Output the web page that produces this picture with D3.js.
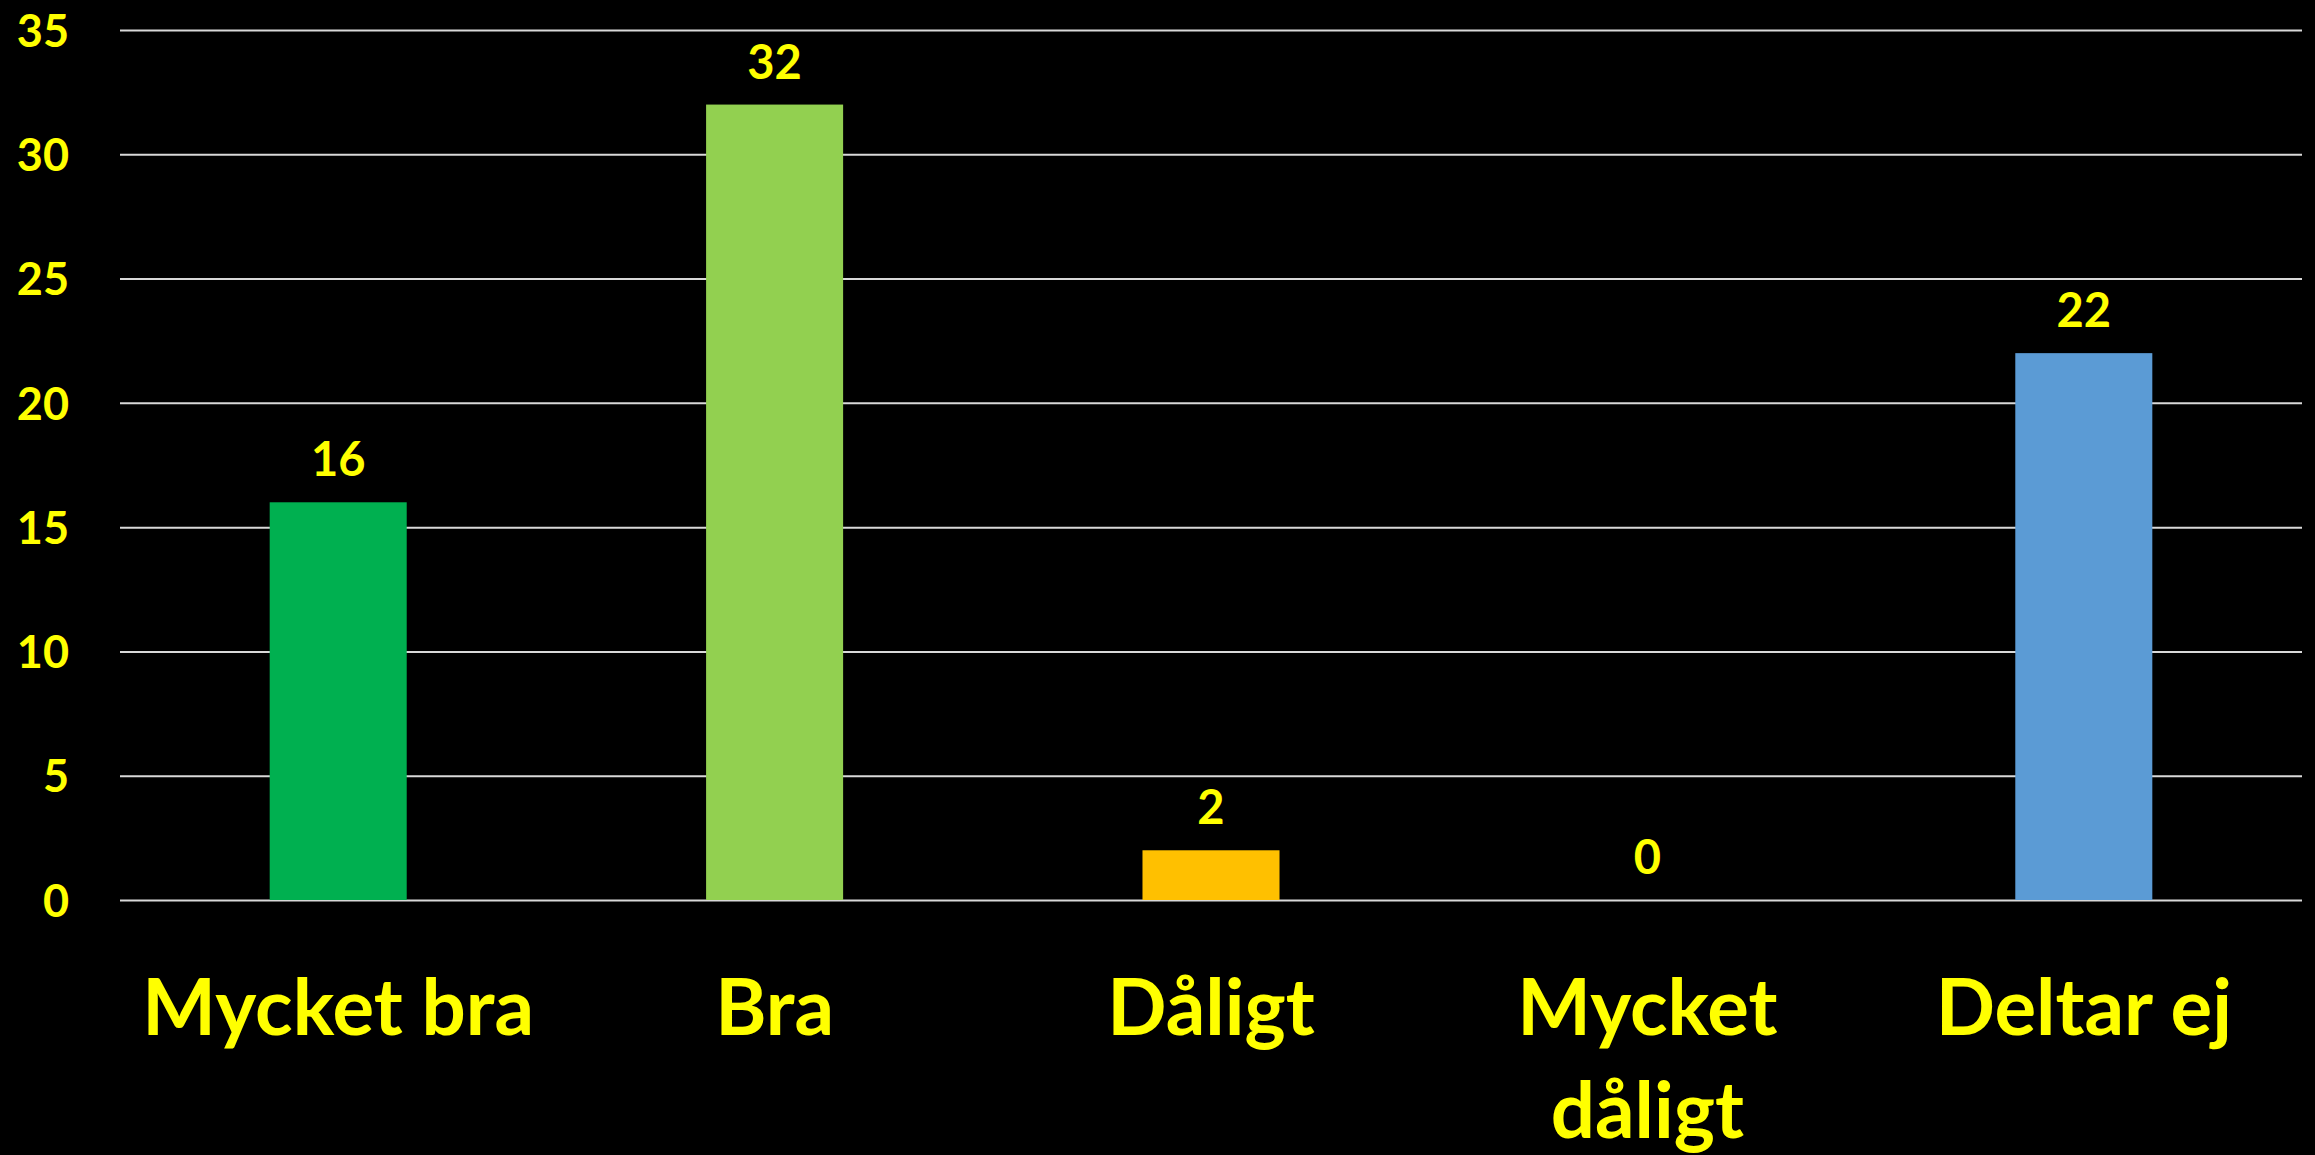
<!DOCTYPE html>
<html>
<head>
<meta charset="utf-8">
<script src="https://cdn.jsdelivr.net/npm/d3@7"></script>
<style>
  html, body { margin: 0; padding: 0; background: #000; }
  svg { display: block; }
</style>
</head>
<body>
<svg id="chart"></svg>
<script>
// Values
const categories = ['Mycket bra', 'Bra', 'Dåligt', 'Mycket dåligt', 'Deltar ej'];
const categoryLines = [['Mycket bra'], ['Bra'], ['Dåligt'], ['Mycket', 'dåligt'], ['Deltar ej']];
const counts = [16, 32, 2, 0, 22];
const barColors = ['#00b050', '#92d050', '#ffc000', '#5b9bd5', '#5b9bd5'];
const yTicks = [0, 5, 10, 15, 20, 25, 30, 35];

const width = 2315, height = 1155;
const margin = { top: 30, right: 13, bottom: 255, left: 120 };
const font = 'Lato, "Open Sans", sans-serif';
const yellow = '#ffff00';

const svg = d3.select('#chart')
  .attr('width', width)
  .attr('height', height);

svg.append('rect')
  .attr('width', width)
  .attr('height', height)
  .attr('fill', '#000');

// x is a band per category, y is a linear count scale
const x = d3.scaleBand()
  .domain(categories)
  .range([margin.left, width - margin.right])
  .paddingInner(0.686)
  .paddingOuter(0.343);

const y = d3.scaleLinear()
  .domain([0, 35])
  .range([height - margin.bottom, margin.top]);

// gridlines + y labels from the axis itself
const yAxis = svg.append('g')
  .attr('transform', `translate(${margin.left},0)`)
  .call(d3.axisLeft(y)
    .tickValues(yTicks)
    .tickSize(-(width - margin.left - margin.right))
    .tickPadding(51));

yAxis.select('.domain').remove();
yAxis.selectAll('.tick line')
  .attr('stroke', '#d9d9d9')
  .attr('stroke-width', 2);
yAxis.selectAll('.tick text')
  .attr('fill', yellow)
  .attr('font-family', font)
  .attr('font-weight', 'bold')
  .attr('font-size', 45)
  .attr('dy', '0.36em');

// bars
svg.append('g')
  .selectAll('rect')
  .data(categories)
  .join('rect')
    .attr('x', d => x(d))
    .attr('y', (d, i) => y(counts[i]))
    .attr('width', x.bandwidth())
    .attr('height', (d, i) => y(0) - y(counts[i]))
    .attr('fill', (d, i) => barColors[i]);

// value labels above the bars
svg.append('g')
  .selectAll('text')
  .data(categories)
  .join('text')
    .attr('x', d => x(d) + x.bandwidth() / 2)
    .attr('y', (d, i) => y(counts[i]) - 26)
    .attr('text-anchor', 'middle')
    .attr('fill', yellow)
    .attr('font-family', font)
    .attr('font-weight', 'bold')
    .attr('font-size', 47)
    .text((d, i) => counts[i]);

// category labels, some wrap onto two lines
const catLabels = svg.append('g')
  .selectAll('text')
  .data(categories)
  .join('text')
    .attr('x', d => x(d) + x.bandwidth() / 2)
    .attr('y', 1035)
    .attr('text-anchor', 'middle')
    .attr('fill', yellow)
    .attr('font-family', font)
    .attr('font-weight', 'bold')
    .attr('font-size', 78);

catLabels.each(function(d, i) {
  d3.select(this).selectAll('tspan')
    .data(categoryLines[i])
    .join('tspan')
      .attr('x', x(d) + x.bandwidth() / 2)
      .attr('dy', (t, j) => j === 0 ? 0 : 103)
      .text(t => t);
});
</script>
</body>
</html>
